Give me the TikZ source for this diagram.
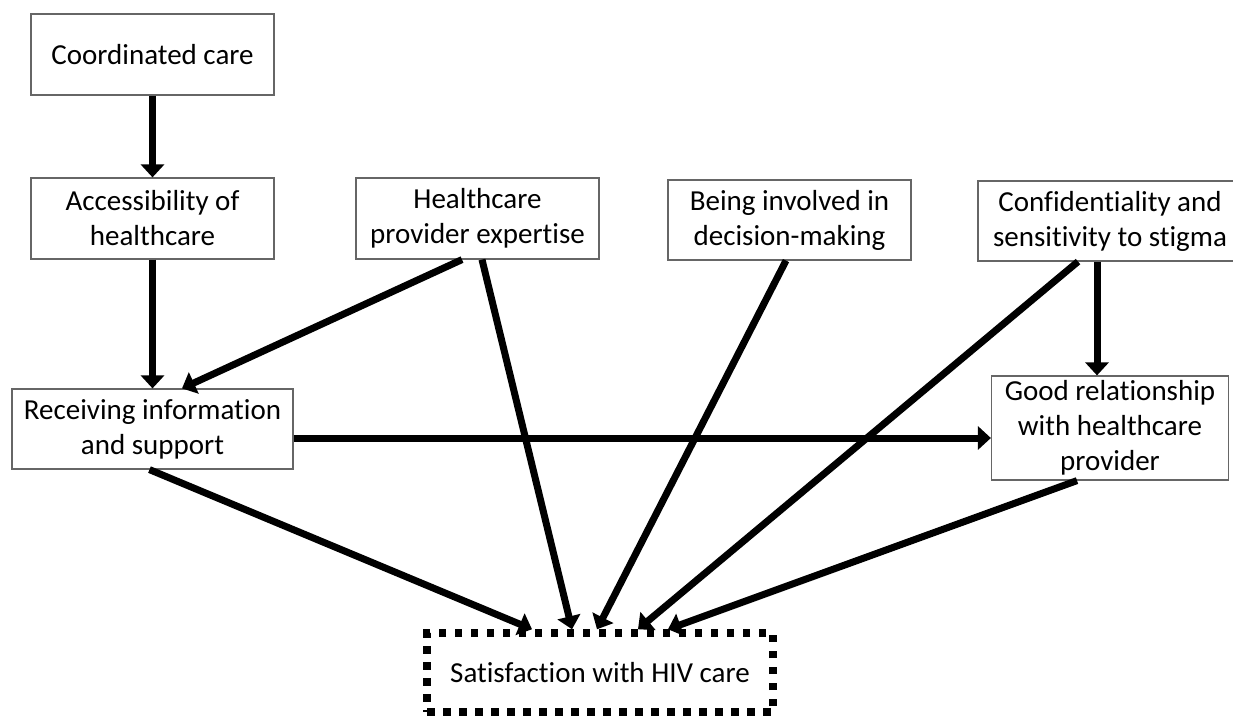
\documentclass[tikz,border=0pt]{standalone}
\usepackage{fontspec}
\setmainfont{Carlito}[Ligatures=NoCommon]
\usetikzlibrary{arrows.meta,positioning}

\begin{document}
\begin{tikzpicture}[
	x=1pt, y=-1pt,
	on grid,
	align=center,
	font=\fontsize{29}{35}\selectfont,
	factor/.style={
		rectangle,
		draw=black!60,
		line width=1.2pt,
		inner sep=0pt,
		minimum width=243pt,
		minimum height=81pt
	},
	outcome/.style={
		rectangle,
		draw,
		line width=7.5pt,
		dash pattern=on 7.5pt off 8.5pt,
		inner sep=0pt,
		minimum width=346pt,
		minimum height=79pt
	},
	link/.style={
		-{Triangle[length=13pt,width=23pt]},
		line width=7pt
	}]

   \useasboundingbox (0,0) rectangle (1233,718);

   \node[factor] (coord) at (152.5,54.5) {Coordinated care};
   \node[factor, below=164pt of coord] (access) {Accessibility of\\healthcare};
   \node[factor, minimum width=281pt, minimum height=80pt, below=210.5pt of access] (receiving) {Receiving information\\and support};
   \node[factor, right=325pt of access] (expert) {Healthcare\\provider expertise};
   \node[factor, minimum height=80pt, right=312pt of expert, yshift=-1.5pt] (involved) {Being involved in\\decision-making};
   \node[factor, minimum width=264pt, minimum height=80pt, right=320.5pt of involved, yshift=-1pt] (confid) {Confidentiality and\\sensitivity to stigma};
   \node[factor, minimum width=237pt, minimum height=104pt, below=207pt of confid] (goodrel) {Good relationship\\with healthcare\\provider};
   \node[outcome] (satisf) at (600,672.5) {Satisfaction with HIV care};

   \path[link]
    (coord) edge (access)
    (access) edge (receiving)
    ([xshift=-15.5pt]expert.south) edge ([xshift=29.5pt]receiving.north)
    ([xshift=4.5pt]expert.south) edge ([xshift=-28pt]satisf.north)
    ([xshift=-3.5pt]involved.south) edge ([xshift=-3pt]satisf.north)
    ([xshift=-32pt]confid.south) edge ([xshift=38pt]satisf.north)
    ([xshift=-13pt]confid.south) edge ([xshift=-13pt]goodrel.north)
    ([yshift=-9pt]receiving.east) edge ([yshift=-9pt]receiving.east -| goodrel.west)
    ([xshift=-3pt]receiving.south) edge ([xshift=-68pt]satisf.north)
    ([xshift=-33pt]goodrel.south) edge ([xshift=68pt]satisf.north);
\end{tikzpicture}
\end{document}
